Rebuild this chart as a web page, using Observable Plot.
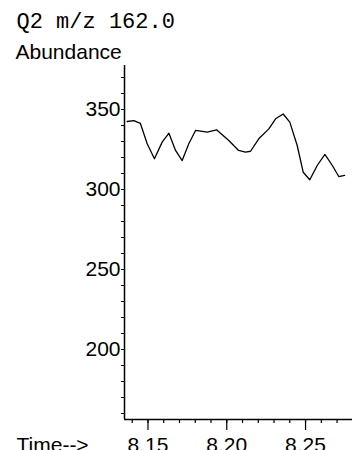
<!DOCTYPE html>
<html>
<head>
<meta charset="utf-8">
<script src="https://cdn.jsdelivr.net/npm/d3@7"></script>
<script src="https://cdn.jsdelivr.net/npm/@observablehq/plot@0.6"></script>
<style>
  html, body { margin: 0; padding: 0; background: #fff; }
  #chart svg { display: block; }
</style>
</head>
<body>
<div id="chart"></div>
<script>
const titleText = "Q2 m/z 162.0";
const yLabel = "Abundance";
const xLabel = "Time-->";

const times = [8.1368, 8.1410, 8.1452, 8.1495, 8.1541, 8.1590, 8.1633, 8.1675, 8.1717, 8.1759,
  8.1802, 8.1876, 8.1935, 8.2013, 8.2075, 8.2119, 8.2151, 8.2203, 8.2267, 8.2310,
  8.2358, 8.2400, 8.2447, 8.2485, 8.2527, 8.2574, 8.2623, 8.2670, 8.2711, 8.2748];
const abundance = [342.5, 343.1, 341.3, 328.6, 319.2, 329.6, 335.2, 324.4, 318.1, 328.6,
  336.9, 335.8, 337.3, 330.6, 324.4, 323.4, 323.9, 331.7, 337.9, 344.2,
  347.2, 342.1, 327.5, 310.8, 306.1, 315.0, 321.9, 315.0, 308.1, 308.8];

const xDomain = [8.1351, 8.2798];
const yDomain = [156.25, 377.5];
const xMajorTicks = [8.15, 8.20, 8.25];
const xMinorTicks = [8.14, 8.15, 8.16, 8.17, 8.18, 8.19, 8.20, 8.21, 8.22, 8.23, 8.24, 8.25, 8.26, 8.27];
const yTicks = [160, 170, 180, 190, 200, 210, 220, 230, 240, 250, 260, 270, 280, 290, 300,
  310, 320, 330, 340, 350, 360, 370];
const yLabelled = [200, 250, 300, 350];

const data = times.map((t, i) => ({time: t, value: abundance[i]}));
const sans = "Liberation Sans, Arial, Helvetica, sans-serif";

const chart = Plot.plot({
  width: 352,
  height: 450,
  marginLeft: 124,
  marginRight: 0,
  marginTop: 65,
  marginBottom: 31,
  style: {background: "#fff", color: "#000", fontFamily: sans, fontSize: "21px"},
  x: {domain: xDomain, axis: null},
  y: {domain: yDomain, axis: null},
  marks: [
    Plot.axisX(xMinorTicks, {tickSize: 4, tickFormat: () => "", label: null, stroke: "#000", strokeWidth: 1.2}),
    Plot.axisX(xMajorTicks, {tickSize: 11, tickPadding: 7, tickFormat: d3.format(".2f"), label: null,
      stroke: "#000", strokeWidth: 1.2, fontSize: 21, fill: "#000"}),
    Plot.axisY(yTicks, {tickSize: 3, tickPadding: 1, label: null,
      tickFormat: d => yLabelled.includes(d) ? String(d) : "",
      stroke: "#000", strokeWidth: 1, fontSize: 21, fill: "#000"}),
    Plot.ruleX([xDomain[0]], {stroke: "#000", strokeWidth: 1.5}),
    Plot.ruleY([yDomain[0]], {stroke: "#000", strokeWidth: 1.5}),
    Plot.line(data, {x: "time", y: "value", stroke: "#000", strokeWidth: 1.3}),
    Plot.text([titleText], {frameAnchor: "top-left", dx: 16 - 124, dy: 11.5 - 65,
      textAnchor: "start", lineAnchor: "top", fontFamily: "Liberation Mono, DejaVu Sans Mono, monospace",
      fontSize: 22, fill: "#000", style: {letterSpacing: "3.4px"}}),
    Plot.text([yLabel], {frameAnchor: "top-left", dx: 15 - 124, dy: 43.3 - 65,
      textAnchor: "start", lineAnchor: "top", fontSize: 21, fill: "#000"}),
    Plot.text([xLabel], {frameAnchor: "bottom-left", dx: 16 - 124, dy: 18,
      textAnchor: "start", lineAnchor: "top", fontSize: 21, fill: "#000"})
  ]
});
document.getElementById("chart").appendChild(chart);
</script>
</body>
</html>
